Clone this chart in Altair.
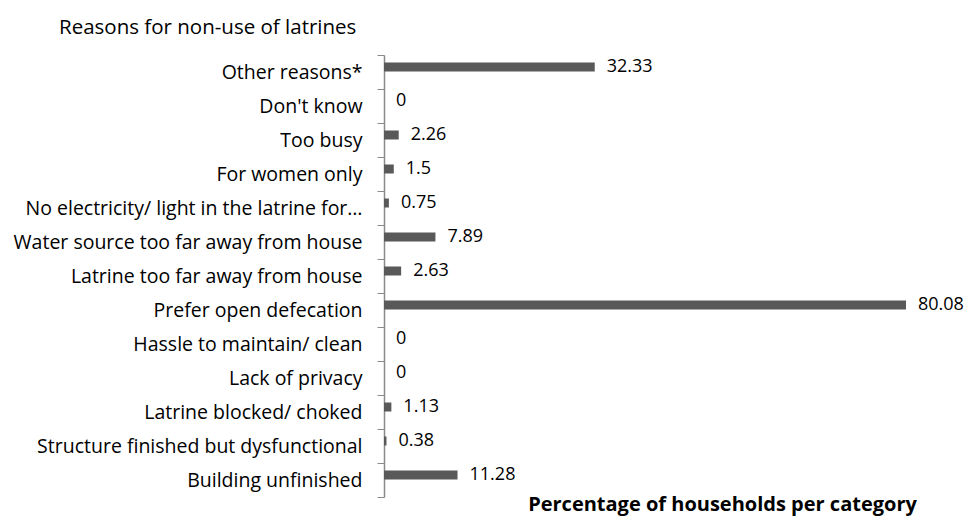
import altair as alt
import pandas as pd

categories = [
    "Other reasons*",
    "Don't know",
    "Too busy",
    "For women only",
    "No electricity/ light in the latrine for…",
    "Water source too far away from house",
    "Latrine too far away from house",
    "Prefer open defecation",
    "Hassle to maintain/ clean",
    "Lack of privacy",
    "Latrine blocked/ choked",
    "Structure finished but dysfunctional",
    "Building unfinished",
]
values = [32.33, 0, 2.26, 1.5, 0.75, 7.89, 2.63, 80.08, 0, 0, 1.13, 0.38, 11.28]

df = pd.DataFrame({"reason": categories, "pct": values})

FONT = "Open Sans"

y_enc = alt.Y(
    "reason:N",
    sort=categories,
    title=None,
    scale=alt.Scale(paddingInner=0, paddingOuter=0),
    axis=alt.Axis(
        labelFont=FONT,
        labelFontSize=19.5,
        labelColor="#000000",
        labelPadding=15,
        labelLimit=400,
        tickBand="extent",
        tickSize=7,
        tickColor="#8a8a8a",
        domainColor="#8a8a8a",
        domainWidth=1.5,
        grid=False,
    ),
)
x_enc = alt.X(
    "pct:Q",
    scale=alt.Scale(domain=[0, 80.08], nice=False),
    axis=alt.Axis(
        title="Percentage of households per category",
        labels=False,
        ticks=False,
        domain=False,
        grid=False,
        titleFont=FONT,
        titleFontSize=20,
        titleFontWeight="bold",
        titleColor="#000000",
        titleX=338,
        titleY=7,
        titleAlign="center",
        titleBaseline="middle",
    ),
)

bars = alt.Chart(df).mark_bar(size=9, color="#595959", yOffset=-5).encode(
    x=x_enc, y=y_enc
)
labels = alt.Chart(df).mark_text(
    align="left", baseline="middle", dx=12, dy=-5, font=FONT, fontSize=18, color="#000000"
).encode(x="pct:Q", y=alt.Y("reason:N", sort=categories), text=alt.Text("pct:Q"))

chart = (
    alt.layer(bars, labels)
    .properties(
        width=522,
        height=442,
        autosize=alt.AutoSizeParams(type="none"),
        padding={"left": 376, "top": 47, "right": 59, "bottom": 19},
        title=alt.TitleParams(
            "Reasons for non-use of latrines",
            anchor="start",
            frame="group",
            dx=-325,
            font=FONT,
            fontSize=20.5,
            fontWeight="normal",
            color="#000000",
            offset=7,
        ),
    )
    .configure_view(stroke=None)
)

chart.save("out.html", embed_options={"renderer": "svg", "actions": False})
